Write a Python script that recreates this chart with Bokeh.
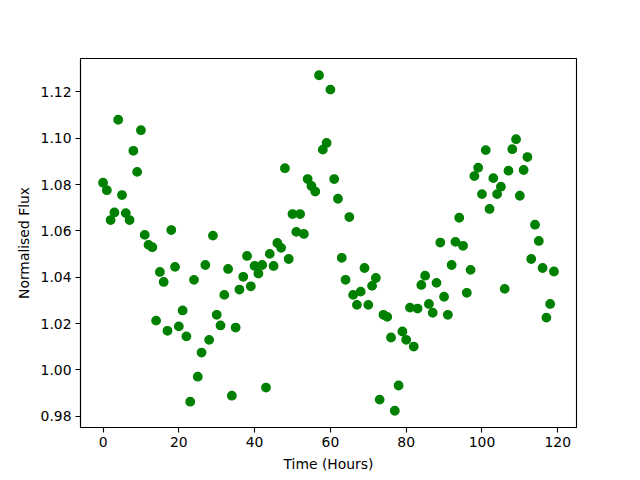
from bokeh.plotting import figure
from bokeh.models import Range1d, FixedTicker, PrintfTickFormatter, ColumnDataSource
from bokeh.embed import file_html
from bokeh.resources import INLINE

hours = list(range(120))
flux = [
    1.0808, 1.0776, 1.0647, 1.0680, 1.1080, 1.0755, 1.0677, 1.0647, 1.0946, 1.0855,
    1.1035, 1.0583, 1.0540, 1.0530, 1.0213, 1.0423, 1.0380, 1.0169, 1.0604, 1.0445,
    1.0188, 1.0257, 1.0145, 0.9863, 1.0389, 0.9971, 1.0075, 1.0453, 1.0130, 1.0580,
    1.0238, 1.0192, 1.0324, 1.0436, 0.9889, 1.0183, 1.0347, 1.0402, 1.0492, 1.0361,
    1.0449, 1.0416, 1.0453, 0.9924, 1.0501, 1.0449, 1.0548, 1.0527, 1.0871, 1.0479,
    1.0673, 1.0596, 1.0673, 1.0587, 1.0824, 1.0794, 1.0770, 1.1272, 1.0951, 1.0980,
    1.1210, 1.0824, 1.0739, 1.0484, 1.0389, 1.0660, 1.0324, 1.0281, 1.0338, 1.0440,
    1.0281, 1.0363, 1.0397, 0.9872, 1.0238, 1.0229, 1.0140, 0.9824, 0.9933, 1.0166,
    1.0130, 1.0269, 1.0101, 1.0265, 1.0367, 1.0407, 1.0285, 1.0247, 1.0376, 1.0550,
    1.0316, 1.0238, 1.0453, 1.0553, 1.0657, 1.0536, 1.0333, 1.0432, 1.0837, 1.0873,
    1.0759, 1.0949, 1.0695, 1.0828, 1.0759, 1.0791, 1.0350, 1.0860, 1.0953, 1.0996,
    1.0752, 1.0863, 1.0919, 1.0479, 1.0627, 1.0557, 1.0440, 1.0226, 1.0285, 1.0425,
]
x_ticks = [0, 20, 40, 60, 80, 100, 120]
y_ticks = [0.98, 1.00, 1.02, 1.04, 1.06, 1.08, 1.10, 1.12]
x_label = "Time (Hours)"
y_label = "Normalised Flux"

xmin, xmax = min(hours), max(hours)
ymin, ymax = min(flux), max(flux)
xm = (xmax - xmin) * 0.05
ym = (ymax - ymin) * 0.05

p = figure(
    width=640, height=480,
    frame_width=496, frame_height=369,
    min_border_left=80, min_border_right=64, min_border_top=58, min_border_bottom=53,
    x_range=Range1d(xmin - xm, xmax + xm),
    y_range=Range1d(ymin - ym, ymax + ym),
    output_backend="svg", toolbar_location=None,
    background_fill_color="white", border_fill_color="white",
)
p.xgrid.visible = False
p.ygrid.visible = False
p.outline_line_color = "black"
p.outline_line_width = 1.1

src = ColumnDataSource(dict(x=hours, y=flux))
p.scatter("x", "y", source=src, size=8.4, fill_color="green", line_color="green", line_width=1.4)

FONT = "DejaVu Sans"
for ax in (p.xaxis[0], p.yaxis[0]):
    ax.axis_line_color = "black"
    ax.axis_line_width = 1.1
    ax.major_tick_line_color = "black"
    ax.major_tick_line_width = 1.1
    ax.major_tick_out = 5
    ax.major_tick_in = 0
    ax.minor_tick_line_color = None
    ax.major_label_text_font = FONT
    ax.major_label_text_font_size = "13.9px"
    ax.major_label_text_color = "black"
    ax.axis_label_text_font = FONT
    ax.axis_label_text_font_size = "13.9px"
    ax.axis_label_text_font_style = "normal"
    ax.axis_label_text_color = "black"
    ax.major_label_standoff = 4
    ax.axis_label_standoff = 6

p.xaxis[0].ticker = FixedTicker(ticks=x_ticks)
p.yaxis[0].ticker = FixedTicker(ticks=y_ticks)
p.yaxis[0].formatter = PrintfTickFormatter(format="%.2f")
p.xaxis[0].axis_label = x_label
p.yaxis[0].axis_label = y_label

open("out.html", "w").write(file_html(p, INLINE))
